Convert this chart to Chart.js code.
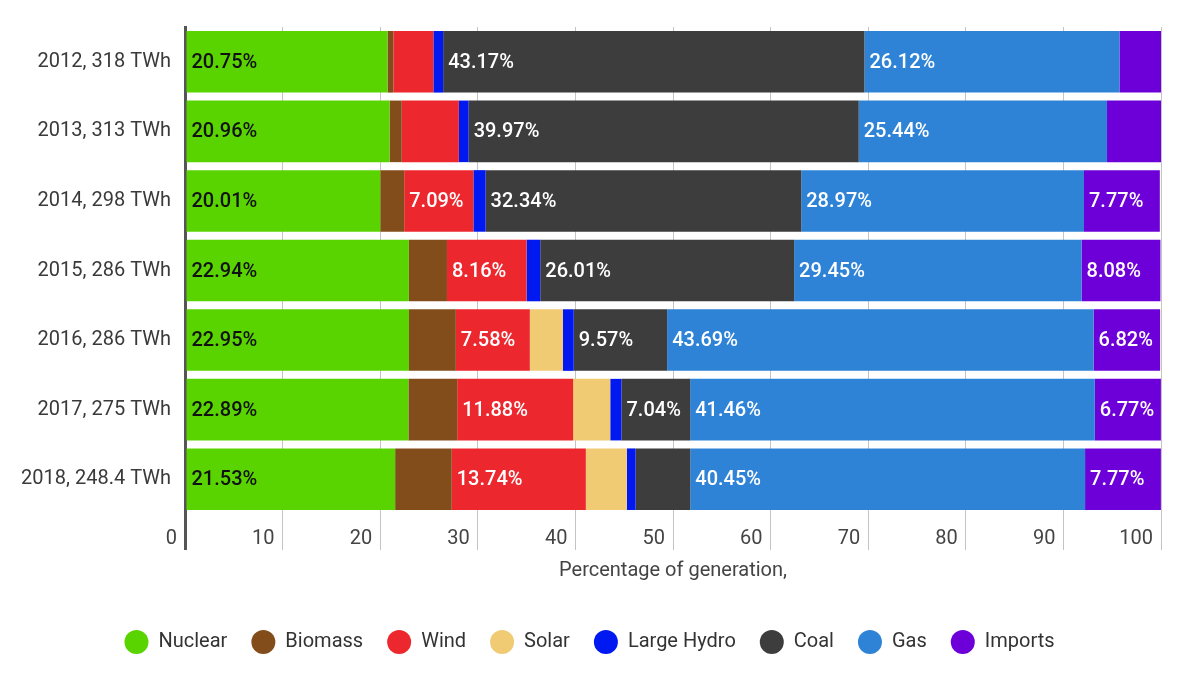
<!DOCTYPE html>
<html>
<head>
<meta charset="utf-8">
<script src="https://cdn.jsdelivr.net/npm/chart.js@4"></script>
<style>
  html, body { margin: 0; padding: 0; background: #fff; }
  #wrap { width: 1200px; height: 676px; }
</style>
</head>
<body>
<div id="wrap"><canvas id="myChart" width="1200" height="676"></canvas></div>
<script>
// rows (year, total generation)
var years = ['2012, 318 TWh', '2013, 313 TWh', '2014, 298 TWh', '2015, 286 TWh',
             '2016, 286 TWh', '2017, 275 TWh', '2018, 248.4 TWh'];

// percentage of generation per source
var nuclear = [20.75, 20.96, 20.01, 22.94, 22.95, 22.89, 21.53];
var biomass = [0.6, 1.25, 2.45, 3.9, 4.8, 5.0, 5.8];
var wind    = [4.1, 5.85, 7.09, 8.16, 7.58, 11.88, 13.74];
var solar   = [0, 0, 0, 0, 3.4, 3.8, 4.2];
var hydro   = [1.0, 1.0, 1.25, 1.4, 1.1, 1.15, 0.9];
var coal    = [43.17, 39.97, 32.34, 26.01, 9.57, 7.04, 5.6];
var gas     = [26.12, 25.44, 28.97, 29.45, 43.69, 41.46, 40.45];
var imports = [4.26, 5.53, 7.77, 8.08, 6.82, 6.77, 7.77];

var xTicks = [0, 10, 20, 30, 40, 50, 60, 70, 80, 90, 100];

var FONT = 'Roboto';

// labels written inside the wide segments
var segLabels = {
  id: 'segLabels',
  afterDatasetsDraw: function(chart) {
    var ctx = chart.ctx;
    ctx.save();
    ctx.font = '500 20px ' + FONT;
    ctx.textAlign = 'left';
    ctx.textBaseline = 'middle';
    chart.data.datasets.forEach(function(ds, i) {
      var meta = chart.getDatasetMeta(i);
      meta.data.forEach(function(bar, j) {
        var v = ds.data[j];
        if (v < 6) return;
        ctx.fillStyle = i === 0 ? '#111' : '#fff';
        var left = Math.min(bar.x, bar.base);
        ctx.fillText(v.toFixed(2) + '%', left + 5, bar.y + 1);
      });
    });
    ctx.restore();
  }
};

var ctx = document.getElementById('myChart');
var myChart = new Chart(ctx, {
  type: 'bar',
  data: {
    labels: years,
    datasets: [
      { label: 'Nuclear', data: nuclear, backgroundColor: '#5ad400' },
      { label: 'Biomass', data: biomass, backgroundColor: '#834c1b' },
      { label: 'Wind', data: wind, backgroundColor: '#ed272e' },
      { label: 'Solar', data: solar, backgroundColor: '#f0cb74' },
      { label: 'Large Hydro', data: hydro, backgroundColor: '#0019f0' },
      { label: 'Coal', data: coal, backgroundColor: '#3d3d3d' },
      { label: 'Gas', data: gas, backgroundColor: '#2f83d6' },
      { label: 'Imports', data: imports, backgroundColor: '#6d00d9' }
    ]
  },
  options: {
    indexAxis: 'y',
    responsive: false,
    animation: false,
    maintainAspectRatio: false,
    datasets: { bar: { categoryPercentage: 1, barPercentage: 0.885, borderWidth: 0 } },
    layout: { padding: { left: 18, right: 39, top: 27, bottom: 14 } },
    scales: {
      x: {
        stacked: true,
        min: 0,
        max: 100,
        afterBuildTicks: function(s) { s.ticks = xTicks.map(function(v) { return { value: v }; }); },
        afterFit: function(s) { s.height = 94; },
        grid: {
          color: function(c) { return c.index === 0 ? '#555' : '#c4c4c4'; },
          lineWidth: function(c) { return c.index === 0 ? 3 : 1; },
          tickLength: 36,
          drawOnChartArea: true
        },
        border: { display: false },
        ticks: {
          align: 'end',
          labelOffset: -8,
          padding: -23,
          color: '#444',
          font: { family: FONT, size: 20 }
        },
        title: {
          display: true,
          text: 'Percentage of generation,',
          color: '#444',
          font: { family: FONT, size: 20 },
          padding: { top: 8, bottom: 25 }
        }
      },
      y: {
        stacked: true,
        grid: { display: false },
        border: { display: true, color: '#555', width: 3 },
        ticks: { color: '#3a3a3a', padding: 6, font: { family: FONT, size: 20 } },
        afterFit: function(s) { s.width = 167; }
      }
    },
    plugins: {
      legend: {
        position: 'bottom',
        labels: {
          usePointStyle: true,
          pointStyle: 'circle',
          pointStyleWidth: 24,
          boxHeight: 17,
          padding: 24,
          color: '#333',
          font: { family: FONT, size: 20 }
        }
      },
      tooltip: { enabled: false }
    }
  },
  plugins: [segLabels]
});
</script>
</body>
</html>
